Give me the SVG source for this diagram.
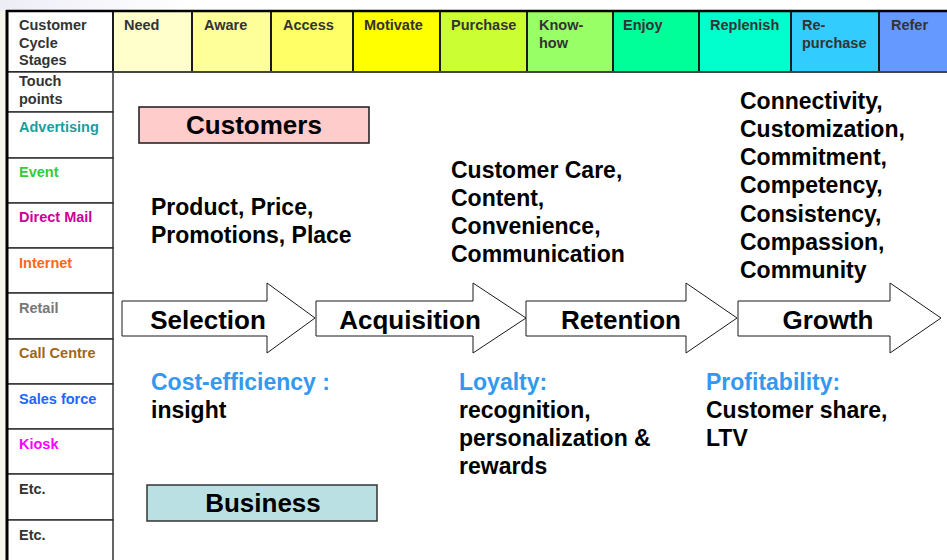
<svg xmlns="http://www.w3.org/2000/svg" width="947" height="560" viewBox="0 0 947 560">
<defs>
<linearGradient id="bgTint" x1="0" y1="0" x2="1" y2="0">
<stop offset="0" stop-color="#EDEDF7"/>
<stop offset="1" stop-color="#FFFFFF"/>
</linearGradient>
<style>
text{font-family:"Liberation Sans",Arial,sans-serif;font-weight:bold}
.hd{font-size:14.5px;fill:#333333}
.tp{font-size:14.5px}
.cell{stroke:#1a1a1a;stroke-width:2}
.row{stroke:#333333;stroke-width:1.5;fill:#FFFFFF}
.arrow{fill:#FFFFFF;stroke:#1a1a1a;stroke-width:1}
.alab{font-size:26px;fill:#000000;text-anchor:middle}
.body{font-size:23px;fill:#000000}
.blue{font-size:23px;fill:#3399EE}
.boxlab{font-size:26px;fill:#000000;text-anchor:middle}
</style>
</defs>
<rect x="0" y="0" width="947" height="560" fill="#FFFFFF"/>
<rect x="0" y="0" width="190" height="11" fill="url(#bgTint)"/>
<rect x="0" y="11" width="6" height="549" fill="#F6F6EC"/>

<g id="header">
<g id="h-stages"><rect class="cell" x="7" y="11" width="106" height="61" fill="#FFFFFF"/><text class="hd" x="19" y="30">Customer</text><text class="hd" x="19" y="47.5">Cycle</text><text class="hd" x="19" y="65">Stages</text></g>
<g id="h-need"><rect class="cell" x="113" y="11" width="79" height="61" fill="#FFFFCC"/><text class="hd" x="124" y="30">Need</text></g>
<g id="h-aware"><rect class="cell" x="192" y="11" width="79" height="61" fill="#FFFF99"/><text class="hd" x="204" y="30">Aware</text></g>
<g id="h-access"><rect class="cell" x="271" y="11" width="82" height="61" fill="#FFFF66"/><text class="hd" x="283" y="30">Access</text></g>
<g id="h-motivate"><rect class="cell" x="353" y="11" width="87" height="61" fill="#FFFF00"/><text class="hd" x="364" y="30">Motivate</text></g>
<g id="h-purchase"><rect class="cell" x="440" y="11" width="87" height="61" fill="#CCFF33"/><text class="hd" x="451" y="30">Purchase</text></g>
<g id="h-knowhow"><rect class="cell" x="527" y="11" width="86" height="61" fill="#99FF66"/><text class="hd" x="539" y="30">Know-</text><text class="hd" x="539" y="47.5">how</text></g>
<g id="h-enjoy"><rect class="cell" x="613" y="11" width="86" height="61" fill="#00FF99"/><text class="hd" x="623" y="30">Enjoy</text></g>
<g id="h-replenish"><rect class="cell" x="699" y="11" width="92" height="61" fill="#00FFCC"/><text class="hd" x="710" y="30">Replenish</text></g>
<g id="h-repurchase"><rect class="cell" x="791" y="11" width="88" height="61" fill="#33CCFF"/><text class="hd" x="802" y="30">Re-</text><text class="hd" x="802" y="47.5">purchase</text></g>
<g id="h-refer"><rect class="cell" x="879" y="11" width="72" height="61" fill="#6699FF"/><text class="hd" x="891" y="30">Refer</text></g>
</g>

<g id="touchpoints">
<g id="t-touch"><rect class="row" x="7" y="72" width="106" height="40"/><text class="tp" x="19" y="86" fill="#333333">Touch</text><text class="tp" x="19" y="103.5" fill="#333333">points</text></g>
<g id="t-advertising"><rect class="row" x="7" y="112" width="106" height="46"/><text class="tp" x="19" y="132" fill="#1A9E9E">Advertising</text></g>
<g id="t-event"><rect class="row" x="7" y="158" width="106" height="45"/><text class="tp" x="19" y="177" fill="#33CC33">Event</text></g>
<g id="t-directmail"><rect class="row" x="7" y="203" width="106" height="45"/><text class="tp" x="19" y="222" fill="#CC0099">Direct Mail</text></g>
<g id="t-internet"><rect class="row" x="7" y="248" width="106" height="45"/><text class="tp" x="19" y="268" fill="#FF6622">Internet</text></g>
<g id="t-retail"><rect class="row" x="7" y="293" width="106" height="46"/><text class="tp" x="19" y="313" fill="#777777">Retail</text></g>
<g id="t-callcentre"><rect class="row" x="7" y="339" width="106" height="45"/><text class="tp" x="19" y="358" fill="#A0661A">Call Centre</text></g>
<g id="t-salesforce"><rect class="row" x="7" y="384" width="106" height="45"/><text class="tp" x="19" y="404" fill="#1A66FF">Sales force</text></g>
<g id="t-kiosk"><rect class="row" x="7" y="429" width="106" height="45"/><text class="tp" x="19" y="449" fill="#FF00FF">Kiosk</text></g>
<g id="t-etc1"><rect class="row" x="7" y="474" width="106" height="46"/><text class="tp" x="19" y="494" fill="#333333">Etc.</text></g>
<g id="t-etc2"><rect class="row" x="7" y="520" width="106" height="45"/><text class="tp" x="19" y="540" fill="#333333">Etc.</text></g>
<line x1="7" y1="10" x2="7" y2="560" stroke="#000000" stroke-width="3"/>
<line x1="6" y1="11" x2="947" y2="11" stroke="#000000" stroke-width="2.5"/>
<line x1="113" y1="72" x2="947" y2="72" stroke="#555555" stroke-width="1.5"/>
</g>

<g id="customers"><rect x="139" y="107" width="230" height="36" fill="#FFCCCC" stroke="#1a1a1a" stroke-width="1.5"/><text class="boxlab" x="254" y="134">Customers</text></g>
<g id="business"><rect x="147" y="485" width="230" height="36" fill="#BBE0E3" stroke="#333333" stroke-width="1.5"/><text class="boxlab" x="263" y="512">Business</text></g>

<g id="selection"><path class="arrow" d="M122,301 H267 V283 L315,318 L267,353 V336 H122 Z"/><text class="alab" x="208" y="329">Selection</text></g>
<g id="acquisition"><path class="arrow" d="M316,301 H473 V283 L526,318 L473,353 V336 H316 Z"/><text class="alab" x="410" y="329">Acquisition</text></g>
<g id="retention"><path class="arrow" d="M526,301 H686 V283 L737,318 L686,353 V336 H526 Z"/><text class="alab" x="621" y="329">Retention</text></g>
<g id="growth"><path class="arrow" d="M738,301 H890 V283 L941,318 L890,353 V336 H738 Z"/><text class="alab" x="828" y="329">Growth</text></g>

<g id="connectors"></g>

<g id="selection-text"><text class="body" x="151" y="215">Product, Price,</text><text class="body" x="151" y="243">Promotions, Place</text></g>
<g id="acquisition-text"><text class="body" x="451" y="178">Customer Care,</text><text class="body" x="451" y="206">Content,</text><text class="body" x="451" y="234">Convenience,</text><text class="body" x="451" y="262">Communication</text></g>
<g id="growth-text"><text class="body" x="740" y="109">Connectivity,</text><text class="body" x="740" y="137">Customization,</text><text class="body" x="740" y="165">Commitment,</text><text class="body" x="740" y="193">Competency,</text><text class="body" x="740" y="222">Consistency,</text><text class="body" x="740" y="250">Compassion,</text><text class="body" x="740" y="278">Community</text></g>

<g id="cost-text"><text class="blue" x="151" y="390">Cost-efficiency :</text><text class="body" x="151" y="418">insight</text></g>
<g id="loyalty-text"><text class="blue" x="459" y="390">Loyalty:</text><text class="body" x="459" y="418">recognition,</text><text class="body" x="459" y="446">personalization &amp;</text><text class="body" x="459" y="474">rewards</text></g>
<g id="profit-text"><text class="blue" x="706" y="390">Profitability:</text><text class="body" x="706" y="418">Customer share,</text><text class="body" x="706" y="446">LTV</text></g>
</svg>
